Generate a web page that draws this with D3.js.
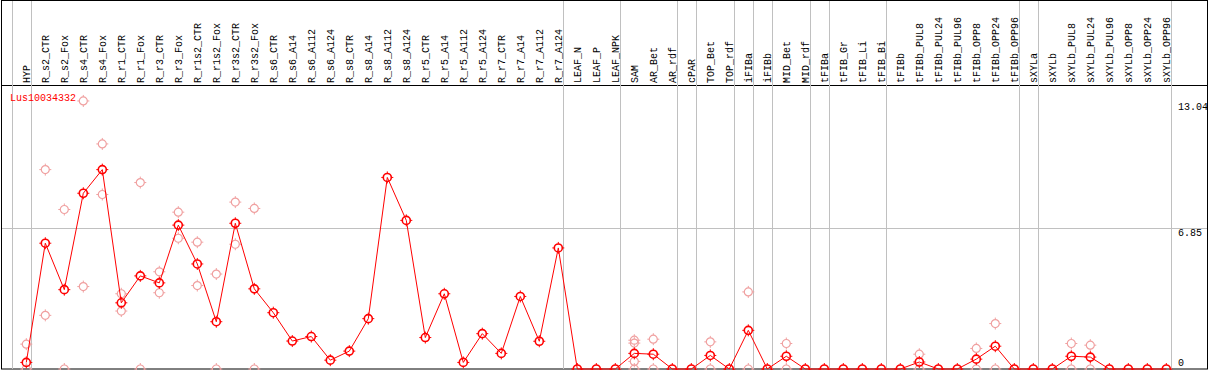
<!DOCTYPE html>
<html>
<head>
<meta charset="utf-8">
<script src="https://cdn.jsdelivr.net/npm/d3@7"></script>
<style>
    body { margin: 0; background: #ffffff; }
    #chart { width: 1209px; height: 370px; }
    text { font-family: "Liberation Mono", "DejaVu Sans Mono", monospace; }
</style>
</head>
<body>
<div id="chart"></div>
<script>
// sample names (one column each)
var samples = [
    'HYP',
    'R_s2_CTR', 'R_s2_Fox', 'R_s4_CTR', 'R_s4_Fox', 'R_r1_CTR', 'R_r1_Fox', 'R_r3_CTR', 'R_r3_Fox',
    'R_r1s2_CTR', 'R_r1s2_Fox', 'R_r3s2_CTR', 'R_r3s2_Fox',
    'R_s6_CTR', 'R_s6_A14', 'R_s6_A112', 'R_s6_A124', 'R_s8_CTR', 'R_s8_A14', 'R_s8_A112', 'R_s8_A124',
    'R_r5_CTR', 'R_r5_A14', 'R_r5_A112', 'R_r5_A124', 'R_r7_CTR', 'R_r7_A14', 'R_r7_A112', 'R_r7_A124',
    'LEAF_N', 'LEAF_P', 'LEAF_NPK',
    'SAM', 'AR_Bet', 'AR_rdf',
    'cPAR',
    'TOP_Bet', 'TOP_rdf',
    'iFIBa',
    'iFIBb',
    'MID_Bet', 'MID_rdf',
    'tFIBa',
    'tFIB_Gr', 'tFIB_Li', 'tFIB_Bi',
    'tFIBb', 'tFIBb_PUL8', 'tFIBb_PUL24', 'tFIBb_PUL96', 'tFIBb_OPP8', 'tFIBb_OPP24', 'tFIBb_OPP96',
    'sXYLa',
    'sXYLb', 'sXYLb_PUL8', 'sXYLb_PUL24', 'sXYLb_PUL96', 'sXYLb_OPP8', 'sXYLb_OPP24', 'sXYLb_OPP96'
];
// last sample of each tissue group (a grey line is drawn after it)
var groupEnds = ['HYP', 'R_r7_A124', 'LEAF_NPK', 'AR_rdf', 'cPAR', 'TOP_rdf', 'iFIBa', 'iFIBb',
    'MID_rdf', 'tFIBa', 'tFIB_Bi', 'tFIBb_OPP96', 'sXYLa', 'sXYLb_OPP96'];
// mean expression per sample
var means = [
    0.32,
    6.12, 3.86, 8.55, 9.70, 3.22, 4.53, 4.19, 7.00,
    5.11, 2.30, 7.09, 3.90,
    2.74, 1.36, 1.58, 0.43, 0.87, 2.45, 9.32, 7.23,
    1.53, 3.66, 0.32, 1.72, 0.76, 3.53, 1.35, 5.89,
    0, 0, 0,
    0.76, 0.72, 0,
    0,
    0.66, 0,
    1.88,
    0,
    0.62, 0,
    0,
    0, 0, 0,
    0, 0.34, 0, 0, 0.48, 1.11, 0,
    0,
    0, 0.62, 0.58, 0, 0, 0, 0
];
// single replicates per sample
var reps = [
    [1.21, 0],
    [9.70, 2.61], [7.76, 0], [13.04, 4.01], [10.95, 8.49], [3.66, 2.82], [9.07, 0], [4.73, 3.71], [7.63, 6.36],
    [6.17, 4.06], [4.62, 0], [8.12, 6.07], [7.81, 0],
    [], [], [], [], [], [], [], [],
    [], [], [], [], [], [], [], [],
    [], [], [],
    [1.40, 1.26, 0.37, 0], [1.45, 0], [],
    [],
    [1.32, 0], [],
    [3.75, 0],
    [],
    [1.24, 0], [],
    [],
    [], [], [],
    [], [0.72, 0], [], [], [1.00, 0], [2.21, 0], [],
    [],
    [], [1.24, 0], [1.16, 0], [], [], [], []
];
var geneName = 'Lus10034332';
var yTicks = [0, 6.85, 13.04];

drawProfile('chart');

function drawProfile(divName) {
    var svgwidth = 1209;
    var svgheight = 370;
    var _svg = d3.select('#' + divName)
        .append('svg')
        .attr('width', svgwidth)
        .attr('height', svgheight);

    var headerBottom = 85;
    var plotBottom = 369;

    //x: one 19px band per sample
    var x = d3.scaleBand()
        .domain(samples)
        .range([16.8, 16.8 + samples.length * 19]);
    var cx = function (name) { return x(name) + x.bandwidth() / 2; };
    //y: linear, 0 sits on bottom border
    var y = d3.scaleLinear()
        .domain([0, 6.85])
        .range([plotBottom, 228.2]);

    //frame
    _svg.append('rect')
        .attr('x', 1.5).attr('y', 0.5)
        .attr('width', 1206).attr('height', plotBottom - 0.5)
        .attr('fill', 'none').attr('stroke', '#000000');
    _svg.append('line')
        .attr('x1', 1.5).attr('x2', 1207.5)
        .attr('y1', headerBottom + 0.5).attr('y2', headerBottom + 0.5)
        .attr('stroke', '#000000');

    //middle grid line
    _svg.append('line')
        .attr('x1', 2).attr('x2', 1207)
        .attr('y1', Math.round(y(6.85)) + 0.5).attr('y2', Math.round(y(6.85)) + 0.5)
        .attr('stroke', '#c0c0c0');

    //group separators
    var seps = [cx(samples[0]) - 19 + 4.4].concat(groupEnds.map(function (d) { return cx(d) + 4.4; }));
    _svg.selectAll('.sep')
        .data(seps)
        .enter()
        .append('line')
        .attr('class', 'sep')
        .attr('x1', function (d) { return Math.round(d) + 0.5; })
        .attr('x2', function (d) { return Math.round(d) + 0.5; })
        .attr('y1', 1).attr('y2', plotBottom)
        .attr('stroke', '#c0c0c0');

    //rotated sample labels
    _svg.selectAll('.lbl')
        .data(samples)
        .enter()
        .append('text')
        .attr('class', 'lbl')
        .attr('transform', function (d) {
            return 'translate(' + (cx(d) + 3.6) + ',' + (headerBottom - 2) + ') rotate(-90)';
        })
        .attr('font-size', '10px')
        .attr('fill', '#000000')
        .text(function (d) { return d; });

    //gene name
    _svg.append('text')
        .attr('x', 10).attr('y', 101)
        .attr('font-size', '10px')
        .attr('fill', '#ff0000')
        .text(geneName);

    //value labels on the right
    _svg.selectAll('.ytick')
        .data(yTicks)
        .enter()
        .append('text')
        .attr('class', 'ytick')
        .attr('x', 1178)
        .attr('y', function (d) { return d === 0 ? y(d) - 3 : (d === 6.85 ? y(d) + 8 : 110); })
        .attr('font-size', '10px')
        .attr('fill', '#000000')
        .text(function (d) { return d; });

    //circle with small ticks, like the original marker
    function marker(g, color, width) {
        g.append('circle')
            .attr('r', 4)
            .attr('fill', 'none')
            .attr('stroke', color)
            .attr('stroke-width', width);
        g.append('path')
            .attr('d', 'M0,-6V-4M0,4V6M-6,0H-4M4,0H6')
            .attr('stroke', color)
            .attr('stroke-width', 1);
    }

    //replicates
    var repPts = [];
    samples.forEach(function (s, i) {
        reps[i].forEach(function (v) { repPts.push({s: s, v: v}); });
    });
    var _reps = _svg.selectAll('.rep')
        .data(repPts)
        .enter()
        .append('g')
        .attr('class', 'rep')
        .attr('transform', function (d) { return 'translate(' + cx(d.s) + ',' + y(d.v) + ')'; });
    marker(_reps, '#f0a0a0', 1.2);

    //mean line
    var line = d3.line()
        .x(function (d, i) { return cx(samples[i]); })
        .y(function (d) { return y(d); });
    _svg.append('path')
        .datum(means)
        .attr('d', line)
        .attr('fill', 'none')
        .attr('stroke', '#ff0000')
        .attr('stroke-width', 1);

    var _means = _svg.selectAll('.mean')
        .data(means)
        .enter()
        .append('g')
        .attr('class', 'mean')
        .attr('transform', function (d, i) { return 'translate(' + cx(samples[i]) + ',' + y(d) + ')'; });
    marker(_means, '#ff0000', 1.6);
}
</script>
</body>
</html>
